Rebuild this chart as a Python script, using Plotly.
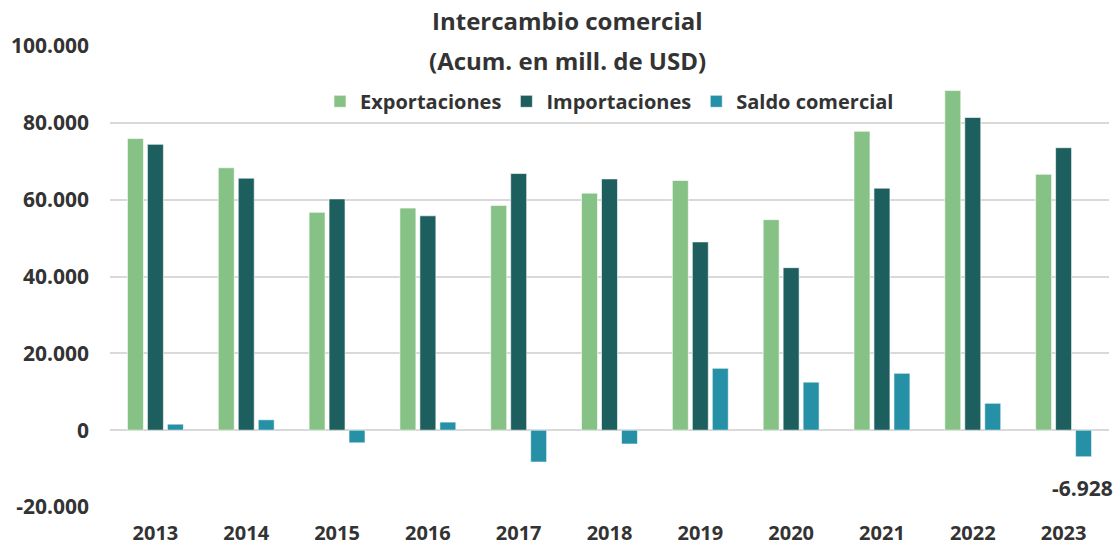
import plotly.graph_objects as go

years = ["2013", "2014", "2015", "2016", "2017", "2018", "2019", "2020", "2021", "2022", "2023"]
exportaciones = [75900, 68300, 56700, 57800, 58500, 61700, 65000, 54800, 77800, 88400, 66600]
importaciones = [74400, 65600, 60200, 55800, 66800, 65400, 49000, 42300, 63000, 81400, 73528]
saldo = [1560, 2700, -3300, 2100, -8300, -3600, 16100, 12500, 14800, 7000, -6928]
y_ticks = [-20000, 0, 20000, 40000, 60000, 80000, 100000]

c_exp = "#86C286"
c_imp = "#1D5F5E"
c_sal = "#2690A6"
font_fam = "'Open Sans', sans-serif"
txt = "#333333"

fig = go.Figure()
for name, vals, col in [("Exportaciones", exportaciones, c_exp),
                        ("Importaciones", importaciones, c_imp),
                        ("Saldo comercial", saldo, c_sal)]:
    fig.add_trace(go.Bar(x=years, y=vals, name=f"<b>{name}</b>", marker_color=col,
                         marker_line=dict(color="rgba(255,255,255,0.6)", width=1),
                         hoverinfo="skip"))

last_idx = len(years) - 1  # category index of the last year
fig.add_annotation(x=last_idx, y=saldo[-1], xref="x", yref="y", text="<b>-6.928</b>",
                   showarrow=False, xshift=19, yshift=-15, yanchor="top",
                   font=dict(size=21, color=txt, family=font_fam))
fig.add_annotation(x=0.458, y=1.0, xref="paper", yref="paper", yshift=26, yanchor="middle",
                   text="<b>Intercambio comercial</b>", showarrow=False,
                   font=dict(size=24, color=txt, family=font_fam))
fig.add_annotation(x=0.458, y=1.0, xref="paper", yref="paper", yshift=-14, yanchor="middle",
                   text="<b>(Acum. en mill. de USD)</b>", showarrow=False,
                   font=dict(size=24, color=txt, family=font_fam))

fig.update_layout(
    width=1117, height=546,
    margin=dict(l=110, r=8, t=46, b=39, autoexpand=False),
    paper_bgcolor="white", plot_bgcolor="white",
    barmode="group", bargap=0.34, bargroupgap=0.2,
    font=dict(family=font_fam, color=txt),
    legend=dict(orientation="h", x=0.5, xanchor="center", y=0.88, yanchor="middle",
                font=dict(size=20, color=txt, family=font_fam), bgcolor="rgba(0,0,0,0)",
                itemwidth=30, tracegroupgap=0),
    xaxis=dict(type="category", range=[-0.5, len(years) - 0.5],
               showgrid=False, showline=False, ticks="", zeroline=False,
               automargin=False, tickangle=0,
               tickvals=years, ticktext=[f"<b>{y}</b>" for y in years],
               tickfont=dict(size=20, color=txt, family=font_fam), ticklabelstandoff=12),
    yaxis=dict(range=[-20000, 100000], tickvals=y_ticks,
               ticktext=[f"<b>{v:,}</b>".replace(",", ".") for v in y_ticks],
               showgrid=True, gridcolor="#D9D9D9", gridwidth=1.5,
               zeroline=True, zerolinecolor="#D9D9D9", zerolinewidth=1.5,
               showline=False, ticks="", automargin=False,
               tickfont=dict(size=21, color=txt, family=font_fam), ticklabelstandoff=20),
)
fig.write_html("out.html", config={"displayModeBar": False},
               post_script="document.body.style.margin='0';")
